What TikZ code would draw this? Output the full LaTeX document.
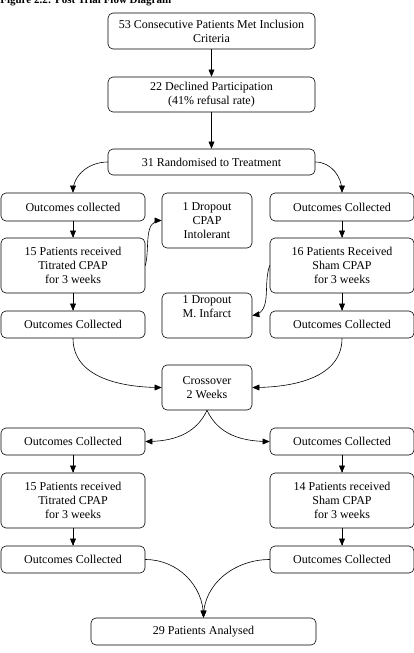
\documentclass[tikz,border=0pt]{standalone}
\usepackage{fontspec}
\setmainfont{Liberation Serif}
\usepackage{tikz}
\usetikzlibrary{arrows}
\tikzset{
  box/.style={draw,rounded corners=5pt,align=center,inner sep=1pt,font=\fontsize{12}{14}\selectfont},
  wide/.style={box,minimum width=207pt},
  side/.style={box,minimum width=144pt,minimum height=27pt},
  mid/.style={box,minimum width=90pt},
  flow/.style={->,line width=0.6pt}
}
\begin{document}
\begin{tikzpicture}[line cap=round,line join=round,>=triangle 45,x=1pt,y=-1pt,line width=0.6pt]
\useasboundingbox (0,0) rectangle (414,653);
\node[anchor=base west,font=\fontsize{11}{12}\selectfont\bfseries,inner sep=0pt] (title) at (0,3.5) {Figure 2.2: Post Trial Flow Diagram};
\node[wide,minimum height=36pt] (incl) at (211.5,31) {53 Consecutive Patients Met Inclusion\\Criteria};
\node[wide,minimum height=35pt] (decl) at (211.5,94.5) {22 Declined Participation\\(41\% refusal rate)};
\node[wide,minimum height=26pt] (rand) at (211.5,162) {31 Randomised to Treatment};
\node[side,minimum height=28pt] (ocaL) at (73,207) {Outcomes collected};
\node[side,minimum height=28pt] (ocaR) at (342,207) {Outcomes Collected};
\node[mid,minimum height=55pt] (dropA) at (207,220.5) {1 Dropout\\CPAP\\Intolerant};
\node[side,minimum height=55pt] (pataL) at (73,265.5) {15 Patients received\\Titrated CPAP\\for 3 weeks};
\node[side,minimum height=55pt] (pataR) at (342,265.5) {16 Patients Received\\Sham CPAP\\for 3 weeks};
\node[mid,minimum height=45pt] (dropB) at (207,315.5) {1 Dropout\\M. Infarct\\[3pt]};
\node[side] (ocbL) at (73,324.5) {Outcomes Collected};
\node[side] (ocbR) at (342,324.5) {Outcomes Collected};
\node[mid,minimum height=45pt] (cross) at (207,387.5) {Crossover\\2 Weeks};
\node[side] (occL) at (73,441.5) {Outcomes Collected};
\node[side] (occR) at (342,441.5) {Outcomes Collected};
\node[side,minimum height=55pt] (patbL) at (73,500.5) {15 Patients received\\Titrated CPAP\\for 3 weeks};
\node[side,minimum height=55pt] (patbR) at (342,500.5) {14 Patients received\\Sham CPAP\\for 3 weeks};
\node[side] (ocdL) at (73,559.5) {Outcomes Collected};
\node[side] (ocdR) at (342,559.5) {Outcomes Collected};
\node[box,minimum width=225pt,minimum height=27pt] (anal) at (203.5,631.5) {29 Patients Analysed};
\draw[flow] (incl) -- (decl);
\draw[flow] (decl) -- (rand);
\draw[flow] (rand.west) to[out=180,in=90] (ocaL.north);
\draw[flow] (rand.east) to[out=0,in=90] (ocaR.north);
\draw[flow] (ocaL) -- (pataL);
\draw[flow] (ocaR) -- (pataR);
\draw[flow] (pataL.east) to[out=75,in=180] (dropA.west);
\draw[flow] (pataR.west) to[out=250,in=10] (dropB.east);
\draw[flow] (pataL) -- (ocbL);
\draw[flow] (pataR) -- (ocbR);
\draw[flow] (ocbL.south) to[out=-90,in=180] (cross.west);
\draw[flow] (ocbR.south) to[out=-90,in=0] (cross.east);
\draw[flow] (cross.south) to[out=-115,in=0] (occL.east);
\draw[flow] (cross.south) to[out=-65,in=180] (occR.west);
\draw[flow] (occL) -- (patbL);
\draw[flow] (occR) -- (patbR);
\draw[flow] (patbL) -- (ocdL);
\draw[flow] (patbR) -- (ocdR);
\draw[flow] (ocdL.east) to[out=0,in=90] (anal.north);
\draw[flow] (ocdR.west) to[out=180,in=90] (anal.north);
\end{tikzpicture}
\end{document}
